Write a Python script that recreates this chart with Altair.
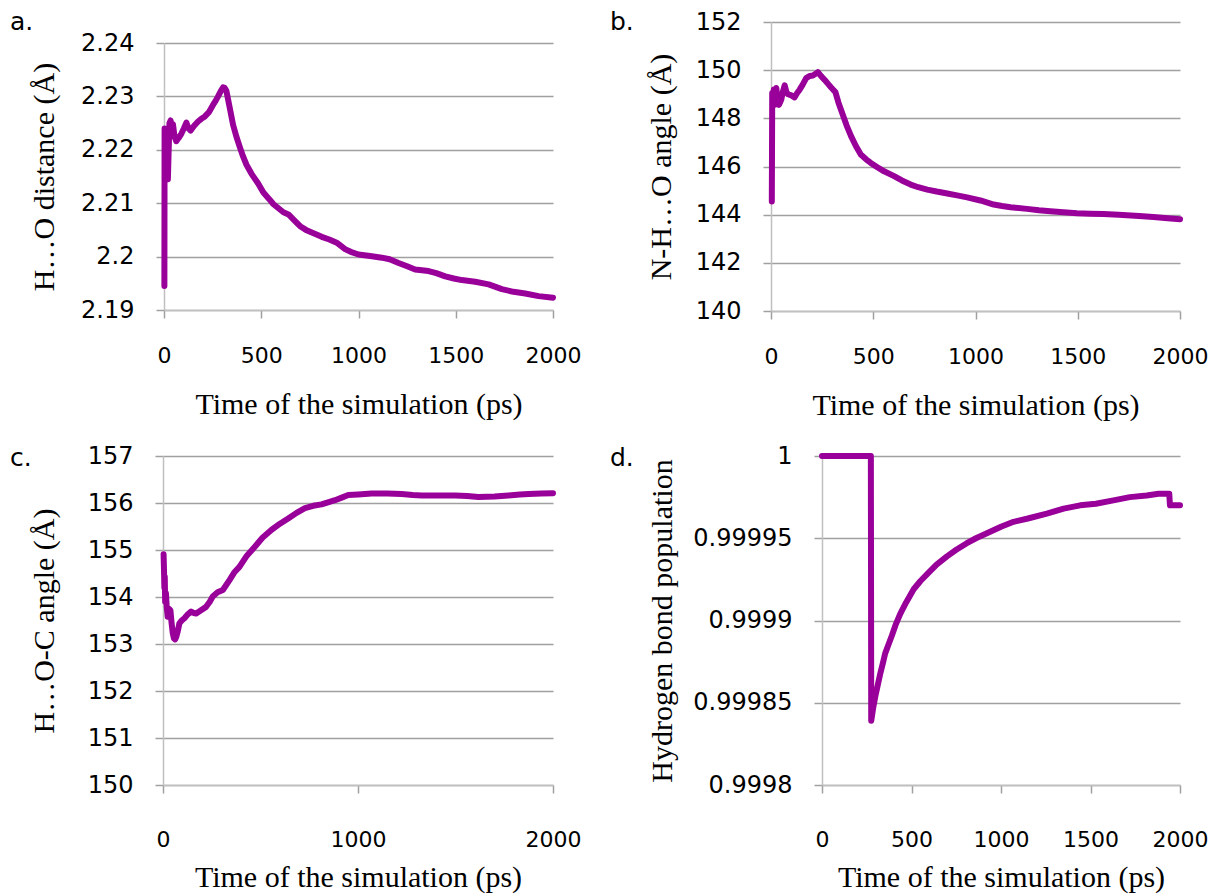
import altair as alt
import pandas as pd

# ---------------- data ----------------
xlabel = "Time of the simulation (ps)"
panel_labels = ["a.", "b.", "c.", "d."]

# a. H...O distance
t_a = [2, 3, 6, 9, 12, 16, 20, 24, 28, 34, 40, 46, 54, 63, 75, 89, 102, 115, 126, 137,
       155, 175, 192, 209, 230, 252, 266, 278, 292, 304, 312, 321, 340, 355, 372, 389,
       406, 424, 450, 484, 511, 540, 563, 590, 614, 640, 670, 700, 730, 760, 811, 850,
       888, 931, 960, 1000, 1060, 1120, 1160, 1206, 1250, 1291, 1360, 1400, 1446, 1490,
       1531, 1600, 1669, 1737, 1797, 1857, 1926, 2000]
v_a = [2.1945, 2.2240, 2.2160, 2.2235, 2.2150, 2.2225, 2.2145, 2.2200, 2.2250, 2.2255,
       2.2240, 2.2248, 2.2225, 2.2216, 2.2222, 2.2230, 2.2240, 2.2251, 2.2240, 2.2236,
       2.2245, 2.2253, 2.2258, 2.2262, 2.2270, 2.2284, 2.2292, 2.2300, 2.2310, 2.2317,
       2.2316, 2.2310, 2.2275, 2.2247, 2.2225, 2.2206, 2.2188, 2.2172, 2.2155, 2.2137,
       2.2120, 2.2108, 2.2098, 2.2090, 2.2083, 2.2079, 2.2068, 2.2057, 2.2050, 2.2045,
       2.2037, 2.2032, 2.2026, 2.2014, 2.2009, 2.2004, 2.2001, 2.1998, 2.1995, 2.1988,
       2.1982, 2.1976, 2.1973, 2.1969, 2.1963, 2.1959, 2.1956, 2.1953, 2.1948, 2.1939,
       2.1934, 2.1931, 2.1926, 2.1923]

# b. N-H...O angle
t_b = [4, 6, 10, 14, 18, 22, 26, 32, 39, 50, 58, 67, 75, 83, 100, 115, 128, 140, 155, 172,
       190, 205, 218, 229, 245, 262, 280, 294, 315, 330, 351, 370, 392, 415, 439, 465, 488,
       520, 553, 602, 640, 683, 720, 764, 810, 862, 910, 959, 1024, 1089, 1130, 1171, 1252,
       1310, 1366, 1430, 1496, 1560, 1626, 1700, 1740, 1800, 1870, 1940, 2000]
v_b = [144.55, 149.05, 148.7, 149.2, 148.56, 149.1, 149.26, 148.8, 148.56, 148.77, 149.1,
       149.37, 149.1, 149.0, 148.95, 148.87, 149.05, 149.19, 149.4, 149.67, 149.76, 149.78,
       149.85, 149.92, 149.75, 149.6, 149.42, 149.28, 149.09, 148.65, 148.15, 147.7, 147.25,
       146.85, 146.5, 146.3, 146.15, 145.97, 145.8, 145.6, 145.42, 145.25, 145.14, 145.04,
       144.96, 144.88, 144.8, 144.72, 144.59, 144.42, 144.36, 144.31, 144.24, 144.18, 144.14,
       144.1, 144.06, 144.04, 144.03, 144.0, 143.98, 143.94, 143.9, 143.85, 143.81]

# c. H...O-C angle
t_c = [3, 5, 7, 9, 11, 13, 15, 19, 24, 30, 38, 44, 50, 56, 62, 68, 75, 84, 96, 110, 125,
       144, 157, 170, 195, 221, 240, 255, 280, 307, 325, 341, 365, 392, 430, 471, 510, 557,
       600, 642, 685, 728, 770, 813, 850, 882, 920, 950, 1000, 1070, 1150, 1224, 1280, 1327,
       1420, 1498, 1560, 1618, 1700, 1772, 1830, 1875, 1940, 2000]
v_c = [154.91, 154.6, 154.2, 154.43, 153.9, 154.1, 154.08, 153.8, 153.58, 153.75, 153.72,
       153.45, 153.23, 153.12, 153.1, 153.15, 153.26, 153.44, 153.5, 153.55, 153.62, 153.69,
       153.66, 153.65, 153.72, 153.79, 153.9, 154.01, 154.1, 154.15, 154.26, 154.36, 154.52,
       154.64, 154.88, 155.07, 155.26, 155.43, 155.56, 155.67, 155.79, 155.89, 155.94,
       155.97, 156.02, 156.06, 156.12, 156.17, 156.18, 156.2, 156.2, 156.19, 156.17, 156.16,
       156.16, 156.16, 156.15, 156.13, 156.14, 156.16, 156.18, 156.19, 156.2, 156.21]

# d. Hydrogen bond population
t_d = [0, 273, 275, 286, 298, 310, 326, 340, 353, 370, 391, 410, 437, 470, 512, 550, 586,
       640, 698, 750, 809, 860, 921, 1000, 1070, 1150, 1256, 1350, 1442, 1530, 1628, 1720,
       1814, 1880, 1940, 1944, 2000]
v_d = [1.0, 1.0, 0.999839, 0.999847, 0.999854, 0.999860, 0.999868, 0.999874, 0.999880,
       0.999885, 0.999891, 0.999897, 0.999904, 0.999911, 0.999919, 0.999924, 0.999928,
       0.999934, 0.999939, 0.999943, 0.999947, 0.999950, 0.999953, 0.999957, 0.999960,
       0.999962, 0.999965, 0.999968, 0.999970, 0.999971, 0.999973, 0.999975, 0.999976,
       0.999977, 0.999977, 0.999970, 0.999970]

ticks_x4 = [0, 500, 1000, 1500, 2000]
ticks_x2 = [0, 1000, 2000]
ticks_a = [2.19, 2.2, 2.21, 2.22, 2.23, 2.24]
ticks_b = [140, 142, 144, 146, 148, 150, 152]
ticks_c = [150, 151, 152, 153, 154, 155, 156, 157]
ticks_d = [0.9998, 0.99985, 0.9999, 0.99995, 1.0]

PURPLE = "#990099"
W, H = 1201, 888


def panel(t, v, xrange, yrange, ydom, yticks, yfmt, xticks, ytitle, title_x,
          label_pad_x, title_y):
    df = pd.DataFrame({"t": t, "v": v})
    return alt.Chart(df).mark_line(
        color=PURPLE, strokeWidth=6, strokeJoin="round", strokeCap="round"
    ).encode(
        x=alt.X("t:Q",
                scale=alt.Scale(domain=[0, 2000], range=xrange, nice=False, zero=False),
                axis=alt.Axis(orient="bottom", values=xticks, format="d",
                              title=xlabel, offset=yrange[0] - H, grid=False,
                              labelBaseline="middle", labelPadding=label_pad_x,
                              labelFontSize=22,
                              titleY=title_y, titleBaseline="middle",
                              labelFlush=False, labelOverlap=False)),
        y=alt.Y("v:Q",
                scale=alt.Scale(domain=ydom, range=yrange, nice=False, zero=False),
                axis=alt.Axis(orient="left", values=yticks, format=yfmt,
                              title=ytitle, offset=-xrange[0], grid=True,
                              labelPadding=22, titleX=title_x,
                              titleBaseline="middle", labelOverlap=False)),
    )


pa = panel(t_a, v_a, [156, 545], [302, 35], [2.19, 2.24], ticks_a, ".2~f", ticks_x4,
           "H…O distance (Å)", -120, 37, 94)
pb = panel(t_b, v_b, [763, 1172], [303, 14], [140, 152], ticks_b, "d", ticks_x4,
           "N-H…O angle (Å)", -110, 37, 94)
pc = panel(t_c, v_c, [155, 545], [777, 448], [150, 157], ticks_c, "d", ticks_x2,
           "H…O-C angle (Å)", -119, 46, 92)
pd_ = panel(t_d, v_d, [814, 1172], [777, 448], [0.9998, 1.0], ticks_d, ".5~f", ticks_x4,
            "Hydrogen bond population", -160, 46, 92)

label_pos = [(2, 14), (602, 14), (2, 450), (602, 450)]
label_layers = []
for lab, (lx, ly) in zip(panel_labels, label_pos):
    label_layers.append(
        alt.Chart(pd.DataFrame({"label": [lab]})).mark_text(
            font="DejaVu Sans", fontSize=25, align="left", baseline="middle", color="black"
        ).encode(text="label:N", x=alt.value(lx), y=alt.value(ly))
    )

chart = alt.layer(pa, pb, pc, pd_, *label_layers).resolve_scale(
    x="independent", y="independent"
).resolve_axis(
    x="independent", y="independent"
).properties(
    width=W, height=H, padding=0, autosize=alt.AutoSizeParams(type="none")
).configure_view(
    stroke=None
).configure_axis(
    labelFont="DejaVu Sans", labelFontSize=24, labelColor="black",
    titleFont="Liberation Serif", titleFontSize=30, titleFontWeight="normal",
    titleColor="black",
    tickColor="#a0a0a0", tickSize=8, tickWidth=1.5,
    domainColor="#c0c0c0", domainWidth=1.5,
    gridColor="#a0a0a0", gridWidth=1.5,
)

chart.save("out.html", embed_options={"renderer": "svg", "actions": False})
